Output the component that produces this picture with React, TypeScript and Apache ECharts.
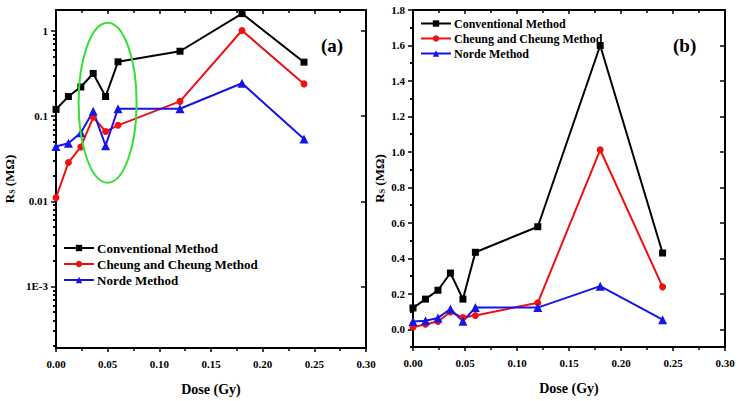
import React, { useEffect, useRef } from "react";
import * as echarts from "echarts";

const dose = [0, 0.012, 0.024, 0.036, 0.048, 0.06, 0.12, 0.18, 0.24];
const conventional = [0.12, 0.17, 0.22, 0.317, 0.17, 0.434, 0.578, 1.6, 0.43];
const cheung = [0.011, 0.0285, 0.0435, 0.097, 0.066, 0.078, 0.149, 1.012, 0.239];
const norde = [0.044, 0.048, 0.064, 0.114, 0.045, 0.122, 0.122, 0.243, 0.054];
const names = ["Conventional Method", "Cheung and Cheung Method", "Norde Method"];
const colors = ["#000000", "#ee1111", "#1515e6"];
const symbols = ["rect", "circle", "triangle"];
const logTickValues = [0.001, 0.01, 0.1, 1];
const logTickLabels = ["1E-3", "0.01", "0.1", "1"];
const linTicks = [0, 0.2, 0.4, 0.6, 0.8, 1.0, 1.2, 1.4, 1.6, 1.8];
const linMinor = [-0.1, 0.1, 0.3, 0.5, 0.7, 0.9, 1.1, 1.3, 1.5, 1.7];

const FONT = "Liberation Serif";

export default function App() {
  const ref = useRef<HTMLDivElement>(null);
  useEffect(() => {
    if (!ref.current) return;
    const chart = echarts.init(ref.current, null, { renderer: "svg" });
    const all = [conventional, cheung, norde];

    const logMajor = logTickValues.map((v) => Math.log10(v));
    const logMinor: number[] = [];
    for (let n = -4; n <= 0; n++) {
      for (let k = 2; k <= 9; k++) {
        const l = Math.log10(k * Math.pow(10, n));
        if (l > -3.722 && l < 0.246) logMinor.push(l);
      }
    }
    const labelStyle = { fontFamily: FONT, fontWeight: "bold" as const, fontSize: 11, color: "#000" };
    const line = { show: true, onZero: false, lineStyle: { color: "#000", width: 2 } };

    const xBase = (grid: number, pos: "bottom" | "top") => ({
      type: "value",
      gridIndex: grid,
      position: pos,
      min: 0,
      max: 0.3,
      interval: 0.05,
      axisLine: line,
      splitLine: { show: false },
      axisTick: { show: true, inside: pos === "top", length: 4, lineStyle: { width: 1.5, color: "#000" } },
      minorTick: { show: true, splitNumber: 2, length: 3, lineStyle: { width: 1.5, color: "#000" } },
      axisLabel: pos === "bottom"
        ? { ...labelStyle, margin: 10, formatter: (v: number) => v.toFixed(2) }
        : { show: false },
      name: pos === "bottom" ? "Dose (Gy)" : "",
      nameLocation: "middle",
      nameGap: 34,
      nameTextStyle: { fontFamily: FONT, fontWeight: "bold", fontSize: 14, color: "#000" },
    });

    const yAxisDef = (
      grid: number,
      pos: "left" | "right",
      values: number[],
      major: boolean,
      min: number,
      max: number,
      labelFmt?: (v: number) => string,
      name?: string,
      nameGap?: number
    ) => ({
      type: "value",
      gridIndex: grid,
      position: pos,
      min,
      max,
      axisLine: major ? line : { show: false },
      splitLine: { show: false },
      axisTick: {
        show: true,
        inside: pos === "right",
        length: major ? 5 : 3,
        customValues: values,
        lineStyle: { width: 1.5, color: "#000" },
      },
      axisLabel: major && pos === "left" && labelFmt
        ? { ...labelStyle, margin: 8, customValues: values, formatter: labelFmt }
        : { show: false },
      name: name || "",
      nameLocation: "middle",
      nameGap: nameGap || 30,
      nameRotate: 90,
      nameTextStyle: {
        fontFamily: FONT,
        fontWeight: "bold",
        fontSize: 13,
        color: "#000",
        rich: {
          sub: { fontFamily: FONT, fontWeight: "bold", fontSize: 8, color: "#000", padding: [6, 0, 0, 0] },
          n: { fontFamily: FONT, fontWeight: "bold", fontSize: 13, color: "#000" },
        },
      },
    });

    const logFmt = (v: number) => {
      const i = logMajor.findIndex((m) => Math.abs(m - v) < 1e-6);
      return i >= 0 ? logTickLabels[i] : "";
    };
    const linFmt = (v: number) => v.toFixed(1);
    const yName = "{n|R}{sub|S}{n| (MΩ)}";

    const series: any[] = [];
    all.forEach((arr, i) => {
      series.push({
        type: "line",
        name: names[i],
        xAxisIndex: 0,
        yAxisIndex: 0,
        data: dose.map((d, j) => [d, Math.log10(arr[j])]),
        symbol: symbols[i],
        symbolSize: i === 2 ? 9 : 7,
        color: colors[i],
        lineStyle: { width: 2, color: colors[i] },
        itemStyle: { color: colors[i] },
      });
    });
    all.forEach((arr, i) => {
      series.push({
        type: "line",
        name: names[i],
        xAxisIndex: 2,
        yAxisIndex: 4,
        data: dose.map((d, j) => [d, arr[j]]),
        symbol: symbols[i],
        symbolSize: i === 2 ? 9 : 7,
        color: colors[i],
        lineStyle: { width: 2, color: colors[i] },
        itemStyle: { color: colors[i] },
      });
    });

    const legendBase = (left: number, top: number, fs: number, lh: number) => ({
      orient: "vertical",
      left,
      top,
      padding: 0,
      itemWidth: 30,
      itemHeight: 8,
      itemGap: 2,
      selectedMode: false,
      data: names,
      textStyle: { fontFamily: FONT, fontWeight: "bold", fontSize: fs, lineHeight: lh, color: "#000", padding: [0, 0, 0, -2] },
    });

    chart.setOption({
      animation: false,
      backgroundColor: "#fff",
      grid: [
        { left: 56, top: 10, width: 310, height: 339 },
        { left: 413, top: 10, width: 312, height: 337 },
      ],
      xAxis: [xBase(0, "bottom"), xBase(0, "top"), xBase(1, "bottom"), xBase(1, "top")],
      yAxis: [
        yAxisDef(0, "left", logMajor, true, -3.722, 0.246, logFmt, yName, 40),
        yAxisDef(0, "left", logMinor, false, -3.722, 0.246),
        yAxisDef(0, "right", logMajor, true, -3.722, 0.246),
        yAxisDef(0, "right", logMinor, false, -3.722, 0.246),
        yAxisDef(1, "left", linTicks, true, -0.1, 1.8, linFmt, yName, 27),
        yAxisDef(1, "left", linMinor, false, -0.1, 1.8),
        yAxisDef(1, "right", linTicks, true, -0.1, 1.8),
        yAxisDef(1, "right", linMinor, false, -0.1, 1.8),
      ],
      legend: [legendBase(63, 241, 13, 14), legendBase(420, 17, 12, 13)],
      series,
      graphic: [
        {
          type: "ellipse",
          shape: { cx: 107.6, cy: 102.7, rx: 29, ry: 80 },
          style: { fill: "none", stroke: "#33e033", lineWidth: 2 },
          z: 10,
        },
        {
          type: "text",
          left: 321,
          top: 36,
          style: { text: "(a)", fontFamily: FONT, fontWeight: "bold", fontSize: 19, fill: "#000" },
        },
        {
          type: "text",
          left: 673,
          top: 36,
          style: { text: "(b)", fontFamily: FONT, fontWeight: "bold", fontSize: 19, fill: "#000" },
        },
      ],
    });
    return () => chart.dispose();
  }, []);
  return <div ref={ref} style={{ width: 750, height: 401, position: "absolute", left: 0, top: 0 }} />;
}
